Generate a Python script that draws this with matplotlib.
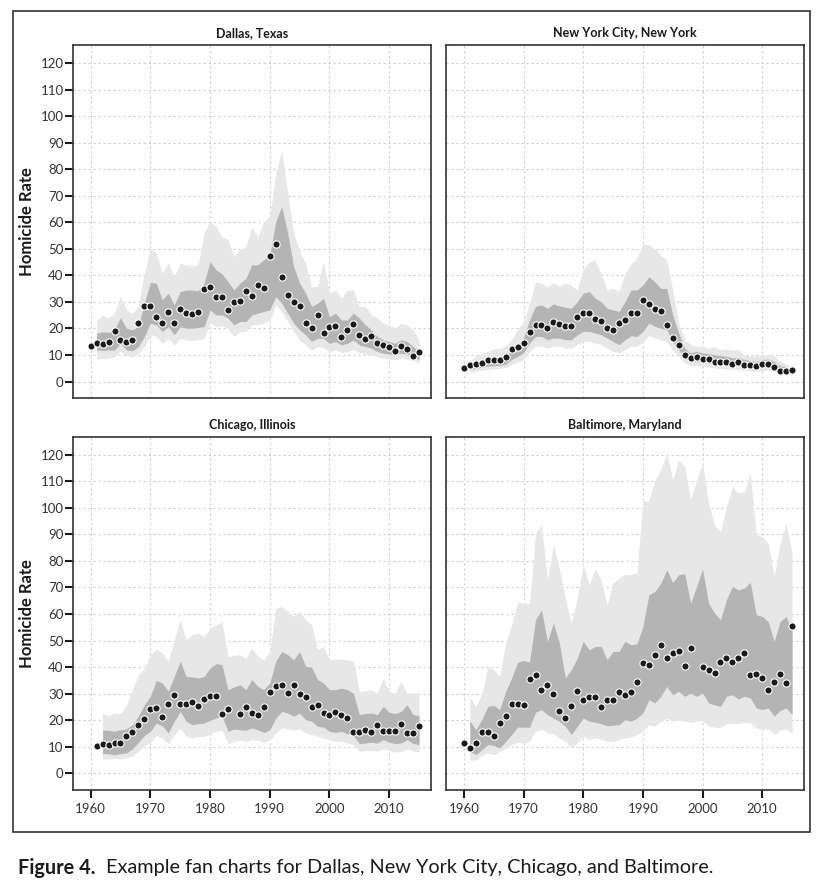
import numpy as np
import matplotlib
matplotlib.use("Agg")
import matplotlib.pyplot as plt
from matplotlib.patches import Rectangle

plt.rcParams['font.family'] = ['Lato', 'DejaVu Sans']

YEARS = list(range(1960, 2016))
nan = np.nan

# ---- Dallas, Texas ----
dallas_rate = [13.4, 14.6, 14.3, 15.1, 19.1, 15.5, 14.8, 15.7, 22.1, 28.3,
               28.6, 24.5, 22.1, 26.1, 22.2, 27.5, 26.0, 25.6, 26.4, 34.9,
               35.6, 31.9, 31.7, 26.9, 29.8, 30.3, 34.3, 32.2, 36.2, 35.4,
               47.4, 51.9, 39.4, 32.5, 29.8, 28.4, 21.9, 20.0, 24.9, 18.3,
               20.6, 21.0, 16.8, 19.5, 21.6, 17.6, 16.0, 17.3, 14.4, 13.8,
               13.2, 11.7, 13.3, 12.3, 9.8, 11.2]
dallas_band_start = 1961
dallas_outer_hi = [23, 24.9, 24, 25.7, 32.4, 27, 25.7, 28.3, 40.8, 50,
                   48.4, 40.8, 44.8, 39.6, 44.6, 44, 43.6, 44, 55.9, 60.3,
                   58.4, 54.4, 53.6, 47.1, 49.6, 50.9, 58.4, 54.4, 60.2, 62.2,
                   78.5, 86.7, 71, 55.9, 49, 44.6, 35.8, 35.8, 45.2, 33.3,
                   34.5, 31.4, 34.5, 34.5, 28.3, 28.3, 25.1, 23.9, 22, 21.4,
                   20.1, 22, 21.4, 19.5, 15.7]
dallas_inner_hi = [18.2, 18.8, 18.5, 19.5, 24.1, 20.1, 19.5, 20.7, 29.5, 37.3,
                   37.1, 30.8, 33.3, 28.9, 33.9, 34.5, 34.5, 34.2, 37.1, 45.2,
                   42.1, 40.6, 37.7, 34.5, 37.1, 38.9, 44, 44, 45.9, 47.7,
                   60.3, 66, 55.9, 43.3, 37.1, 33.3, 28.3, 29.5, 31.4, 24.5,
                   25.8, 23.2, 23.2, 25.8, 23.9, 21.4, 19.5, 17, 15.7, 15.1,
                   14.4, 15.7, 15.1, 13.2, 11.3]
dallas_inner_lo = [11.9, 11.7, 11.9, 11.9, 14.4, 11.9, 11.6, 13.2, 17, 22,
                   21.4, 18.8, 20.7, 17.6, 20.7, 20.1, 20.1, 20.4, 20.7, 27,
                   25.1, 25.1, 23.9, 21.4, 22.6, 22.6, 25.1, 25.8, 26.4, 27,
                   32, 29.5, 25.8, 22, 19.5, 17.6, 15.1, 16.3, 16.3, 14.4,
                   15.1, 13.8, 14.4, 15.7, 13.8, 13.2, 12.6, 11.3, 10.7, 10.4,
                   10.1, 10.7, 10.4, 9.4, 8.2]
dallas_outer_lo = [8.4, 8.8, 8.8, 9.4, 11.3, 9.7, 9.2, 10.7, 13.2, 17.6,
                   17, 14.4, 16.3, 13.8, 16.3, 15.7, 15.5, 15.7, 16.3, 22.2,
                   20.7, 21, 20.1, 17, 18.8, 18.8, 21.4, 21.4, 22, 23.2,
                   28.9, 26.4, 22.6, 18.8, 15.7, 13.8, 11.9, 13.2, 12.6, 11.3,
                   11.9, 10.9, 11.3, 12.2, 10.9, 10.4, 10.1, 9.4, 8.8, 8.5,
                   8.2, 8.8, 8.4, 7.9, 6.9]

# ---- New York City, New York ----
nyc_rate = [5.1, 6.4, 6.8, 7.1, 8, 8.1, 8.1, 9.3, 12.3, 13,
            14.4, 18.8, 21.5, 21.5, 20.3, 22.3, 21.8, 21, 20.9, 24.4,
            25.9, 26, 23.6, 23, 20.3, 19.4, 22.1, 23.1, 26, 26,
            30.9, 29.4, 27.4, 26.6, 21.4, 16.3, 13.6, 10, 8.8, 9.1,
            8.6, 8.4, 7.5, 7.5, 7.4, 6.8, 7.4, 6.4, 6.4, 5.8,
            6.8, 6.6, 5.4, 4.1, 4.1, 4.3]
nyc_band_start = 1961
nyc_outer_hi = [7.6, 9.8, 10.5, 11.4, 12.3, 12.6, 13.3, 15.8, 19.5, 22.6,
                29.5, 37.6, 37, 35.8, 37.3, 36, 37, 36.4, 34.5, 42.6,
                45.1, 45.8, 40.8, 34.5, 35.1, 33.9, 40.8, 44.5, 46.4, 52,
                51.4, 50.1, 47.6, 45.8, 34.5, 22, 15.8, 13.9, 13.3, 13.3,
                12.6, 13, 12, 12.3, 11.8, 12, 10.1, 9.5, 9.8, 9.5,
                10.5, 9.8, 7.6, 6.6, 5.8]
nyc_inner_hi = [6.4, 7.6, 8, 8.5, 9.1, 9.3, 9.8, 12, 13.9, 16.4,
                23.3, 28.3, 28.9, 27.6, 29.3, 28.5, 28, 27.6, 30.1, 33.3,
                33.9, 31.4, 30.1, 27.6, 27, 26.4, 30.1, 34.5, 34.5, 36.4,
                39.5, 37.6, 35.1, 35.1, 25.1, 18.3, 12.6, 10.8, 11.4, 10.8,
                10.5, 10.1, 9.8, 9.5, 8.9, 9.1, 8.3, 7.9, 7.6, 8.3,
                8.5, 7.6, 6, 5.5, 4.8]
nyc_inner_lo = [4.5, 5.1, 5.4, 5.8, 6, 6.1, 6.6, 8.3, 9.5, 10.8,
                14.5, 17, 17, 15.8, 16.4, 16.4, 15.8, 15.8, 17.6, 18.9,
                18.9, 18.3, 17.6, 16.4, 15.1, 13.9, 15.8, 17.3, 17, 18.9,
                22, 20.8, 20.1, 19.5, 15.1, 12, 8.9, 7.6, 7.6, 7.4,
                7, 6.6, 6.4, 6.1, 5.8, 6, 5.5, 5.1, 4.9, 5.4,
                5.5, 4.9, 3.9, 3.5, 3]
nyc_outer_lo = [3.5, 4, 4.3, 4.5, 4.8, 5, 5.3, 6.4, 7.3, 8.3,
                11.4, 13.3, 13.3, 12.6, 13.3, 13.3, 12.6, 12.6, 13.9, 15.1,
                15.1, 14.5, 13.9, 12.6, 11.4, 10.8, 12, 13.3, 13.3, 14.8,
                17.3, 16.4, 15.8, 15.1, 12, 9.5, 7, 6, 6, 5.8,
                5.5, 5.1, 5, 4.8, 4.5, 4.6, 4.3, 4, 3.9, 4.1,
                4.3, 3.9, 3, 2.8, 2.4]

# ---- Chicago, Illinois ----
chicago_rate = [nan, 10.3, 11.2, 10.5, 11.3, 11.3, 14.2, 15.6, 18.1, 20.3,
                24.2, 24.7, 21.3, 26, 29.5, 26.1, 26.1, 26.7, 25.5, 28,
                29, 29.1, 22.2, 24.3, nan, 22.2, 24.8, 22.7, 22.1, 24.8,
                30.6, 33, 33.1, 30.4, 33.1, 30, 28.7, 25.1, 25.6, 22.7,
                21.8, 23, 22.1, 20.7, 15.7, 15.7, 16.4, 15.7, 18.2, 16.1,
                16.1, 16.1, 18.4, 15.3, 15.2, 17.7]
chicago_band_start = 1962
chicago_outer_hi = [22.5, 21.7, 22.7, 22.5, 25.8, 31.5, 37.1, 39.6,
                    44.7, 46.8, 45.3, 42.2, 50.3, 57.8, 50.3, 52.2, 52.8, 51.6,
                    54.7, 56, 57, 44, 44.4, 44.7, 43.4, 47.2, 44, 42.8,
                    45.9, 62.2, 62.9, 61, 59.1, 61, 57.8, 56, 46.6, 47.8,
                    42.8, 43, 43, 42.8, 42.2, 30.9, 31.1, 31.5, 30.2, 35.9,
                    30.9, 30.2, 34.6, 30.2, 30.2, 30.2]
chicago_inner_hi = [16.2, 16.2, 15.8, 16.4, 16.7, 18.3, 21.5, 25.8,
                    29, 35, 34, 30.9, 36.5, 42.2, 36.5, 36.3, 35.9, 36.5,
                    39.6, 41.3, 40.9, 31.5, 32.5, 33.4, 31.5, 35.3, 32.7, 31.5,
                    34, 42.2, 45.9, 44.7, 42.8, 45.9, 40.3, 40, 35.3, 34,
                    31.5, 31.5, 32.1, 31.5, 30.2, 22.1, 22.5, 22.7, 22.1, 25.2,
                    23, 22.5, 23.3, 25.8, 22.1, 21.7]
chicago_inner_lo = [7.4, 7.4, 7, 7.4, 7.7, 9.2, 11.7, 14.2,
                    15.8, 18.9, 17.9, 15.2, 19.6, 23.3, 19.6, 18.3, 18.7, 18.9,
                    19.9, 20.8, 21.5, 15.8, 16.7, 16.4, 16.2, 17.1, 16.4, 15.4,
                    16.4, 20.8, 23.3, 22.7, 21.5, 22.7, 20.2, 19.6, 17.7, 17.4,
                    15.8, 15.4, 15.8, 14.9, 14.2, 11.2, 11.4, 11.7, 11.4, 12.7,
                    11.7, 11.2, 11.4, 12.7, 11.2, 10.8]
chicago_outer_lo = [5.4, 5.4, 5.6, 5.4, 5.8, 6.4, 8.3, 10.4,
                    11.7, 14.2, 13.3, 11.2, 14.6, 17.1, 13.9, 13.3, 13.9, 13.9,
                    14.8, 15.8, 16.2, 11.2, 12, 12.4, 12, 12.7, 12.4, 11.7,
                    12.4, 15.2, 17.1, 16.7, 16.2, 16.7, 15.2, 14.6, 13.9, 13.3,
                    12.7, 12, 12, 11.4, 10.8, 8.3, 8.5, 8.7, 8.4, 9.2,
                    8.5, 8, 8.2, 9.2, 8.3, 8]

# ---- Baltimore, Maryland ----
baltimore_rate = [11.5, 9.4, 11.4, 15.7, 15.7, 14.1, 19.1, 21.5, 26.2, 26.1,
                  25.6, 35.4, 36.9, 31.4, 33.1, 30, 23.3, 20.8, 25.3, 31.1,
                  27.7, 28.6, 28.6, 25, 27.5, 27.7, 30.6, 29.6, 30.7, 34.5,
                  41.5, 40.7, 44.4, 48.2, 43.4, 45.3, 46, 40.5, 47.3, nan,
                  40, 39, 37.8, 41.9, 43.5, 42, 43.4, 45.3, 36.9, 37.3,
                  36, 31.5, 34.5, 37.5, 33.9, 55.5]
baltimore_band_start = 1961
baltimore_outer_hi = [28.7, 25.2, 30, 40.3, 39, 36.5, 49, 56, 64.5, 64,
                      64, 90.5, 93.6, 73, 86, 77, 66, 56.6, 66, 78.5,
                      71, 77.3, 72.9, 63.5, 71.6, 73.5, 75, 75, 75.4, 103,
                      102.4, 110.5, 114.3, 120.6, 110.5, 118, 115.6, 103, 110.5, 116.8,
                      101.8, 93.6, 91.1, 100.5, 108, 105.5, 106.1, 113, 89.8, 89.2,
                      86.7, 74.2, 86.7, 94.2, 82.9]
baltimore_inner_hi = [19.8, 16.4, 20.2, 25.2, 25.6, 24, 30.9, 35.9, 41.8, 42.5,
                      41.9, 57.8, 61.6, 49.7, 56.6, 49, 35.9, 39, 43.4, 49.7,
                      46.5, 47.8, 47.8, 42.8, 45.9, 45.9, 49.7, 48.4, 48.8, 55.3,
                      67.3, 68.5, 71.6, 76.7, 71.9, 74.8, 75.2, 64.1, 70.4, 76.9,
                      64.1, 60.4, 57.8, 65.4, 70.4, 69.1, 69.8, 71.9, 59.7, 59.1,
                      57.2, 49.7, 57.2, 59.1, 53.5]
baltimore_inner_lo = [8.3, 7, 8.9, 10.8, 10.5, 9.5, 12, 14.6, 17.4, 17.4,
                      17.3, 23, 24, 22.1, 20.8, 19.6, 17.7, 14.6, 17.7, 20.8,
                      19.6, 19.2, 18.7, 17.9, 18.1, 18.3, 20.2, 19.6, 20.8, 22.7,
                      27.7, 26.5, 29, 32.7, 29.6, 30.9, 29, 30.2, 29, 30.2,
                      26.5, 25.8, 25.2, 29, 29.6, 28, 29, 28.4, 24.6, 24,
                      24.6, 21.5, 23.7, 24.6, 22.1]
baltimore_outer_lo = [5.1, 4.9, 6.6, 7.7, 7, 8.3, 9.5, 10.8, 11.7, 11.4,
                      12, 15.8, 16.7, 15.2, 14.9, 13.3, 12, 9.5, 11.4, 13.9,
                      12.7, 13.3, 12.7, 12, 12, 12.7, 13.3, 13.6, 14.6, 15.8,
                      18.3, 17.7, 19.6, 20.8, 19.6, 20.2, 19.6, 19.2, 19.6, 20,
                      17.7, 17.4, 17.1, 18.7, 18.9, 18.7, 19.2, 18.9, 17.1, 16.4,
                      16.7, 14.6, 16.2, 16.7, 14.9]

panels = [
    ("Dallas, Texas", dallas_rate, dallas_band_start,
     dallas_outer_hi, dallas_inner_hi, dallas_inner_lo, dallas_outer_lo),
    ("New York City, New York", nyc_rate, nyc_band_start,
     nyc_outer_hi, nyc_inner_hi, nyc_inner_lo, nyc_outer_lo),
    ("Chicago, Illinois", chicago_rate, chicago_band_start,
     chicago_outer_hi, chicago_inner_hi, chicago_inner_lo, chicago_outer_lo),
    ("Baltimore, Maryland", baltimore_rate, baltimore_band_start,
     baltimore_outer_hi, baltimore_inner_hi, baltimore_inner_lo, baltimore_outer_lo),
]

W, H = 823, 885
fig = plt.figure(figsize=(W / 100, H / 100), dpi=100)

# pixel boxes of the four panels (x0, x1, ytop, ybot)
cols = [(72.7, 431.0), (446.0, 804.0)]
rows = [(45.3, 398.3), (437.0, 790.0)]

LIGHT = "#e7e7e7"
DARK = "#b4b4b4"

for i, (title, rate, bstart, ohi, ihi, ilo, olo) in enumerate(panels):
    r, c = divmod(i, 2)
    x0, x1 = cols[c]
    yt, yb = rows[r]
    ax = fig.add_axes([x0 / W, 1 - yb / H, (x1 - x0) / W, (yb - yt) / H])
    byears = np.arange(bstart, bstart + len(ohi))
    ax.fill_between(byears, olo, ohi, color=LIGHT, lw=0, zorder=1)
    ax.fill_between(byears, ilo, ihi, color=DARK, lw=0, zorder=2)
    ax.plot(YEARS, rate, "o", ms=5.2, mfc="#1a1a1a", mec="white", mew=0.8,
            ls="none", zorder=4)

    ax.set_xlim(1957, 2017)
    ax.set_ylim(-6.3, 126.7)
    ax.set_xticks(range(1960, 2011, 10))
    ax.set_yticks(range(0, 121, 10))
    ax.grid(True, color="#cfcfcf", ls=(0, (2, 2.5)), lw=0.8, zorder=0)
    ax.set_axisbelow(True)
    for sp in ax.spines.values():
        sp.set_color("#333333")
        sp.set_linewidth(1.2)

    if c == 0:
        ax.tick_params(axis="y", direction="out", length=5.5, width=1.5,
                       color="#1a1a1a", labelsize=9.5, labelcolor="#333333", pad=1)
    else:
        ax.tick_params(axis="y", length=0, labelleft=False)
    if r == 1:
        ax.tick_params(axis="x", direction="out", length=5.5, width=1.5,
                       color="#1a1a1a", labelsize=9.5, labelcolor="#333333", pad=4)
    else:
        ax.tick_params(axis="x", length=0, labelbottom=False)

    title_y = 33 if r == 0 else 425
    fig.text((x0 + x1) / 2 / W, 1 - title_y / H, title, ha="center", va="center",
             fontsize=9, fontweight="bold", color="#1a1a1a")
    if c == 0:
        fig.text(27 / W, 1 - (yt + yb) / 2 / H, "Homicide Rate", rotation=90,
                 ha="center", va="center", fontsize=12, fontweight="bold",
                 color="#1a1a1a")

# outer frame
fig.add_artist(Rectangle((12.5 / W, 1 - 831.5 / H), (810 - 12.5) / W, (831.5 - 10.5) / H,
                         transform=fig.transFigure, fill=False,
                         edgecolor="#333333", lw=1.2))

# caption
cap_y = 1 - 868 / H
t1 = fig.text(18 / W, cap_y, "Figure 4.", fontsize=14.3, fontweight="bold",
              ha="left", va="center", color="#1a1a1a")
renderer = fig.canvas.get_renderer()
bb = t1.get_window_extent(renderer=renderer)
fig.text((bb.x1 + 10) / W, cap_y, "Example fan charts for Dallas, New York City, Chicago, and Baltimore.",
         fontsize=14.3, ha="left", va="center", color="#1a1a1a")

fig.savefig("out.png", dpi=100)
